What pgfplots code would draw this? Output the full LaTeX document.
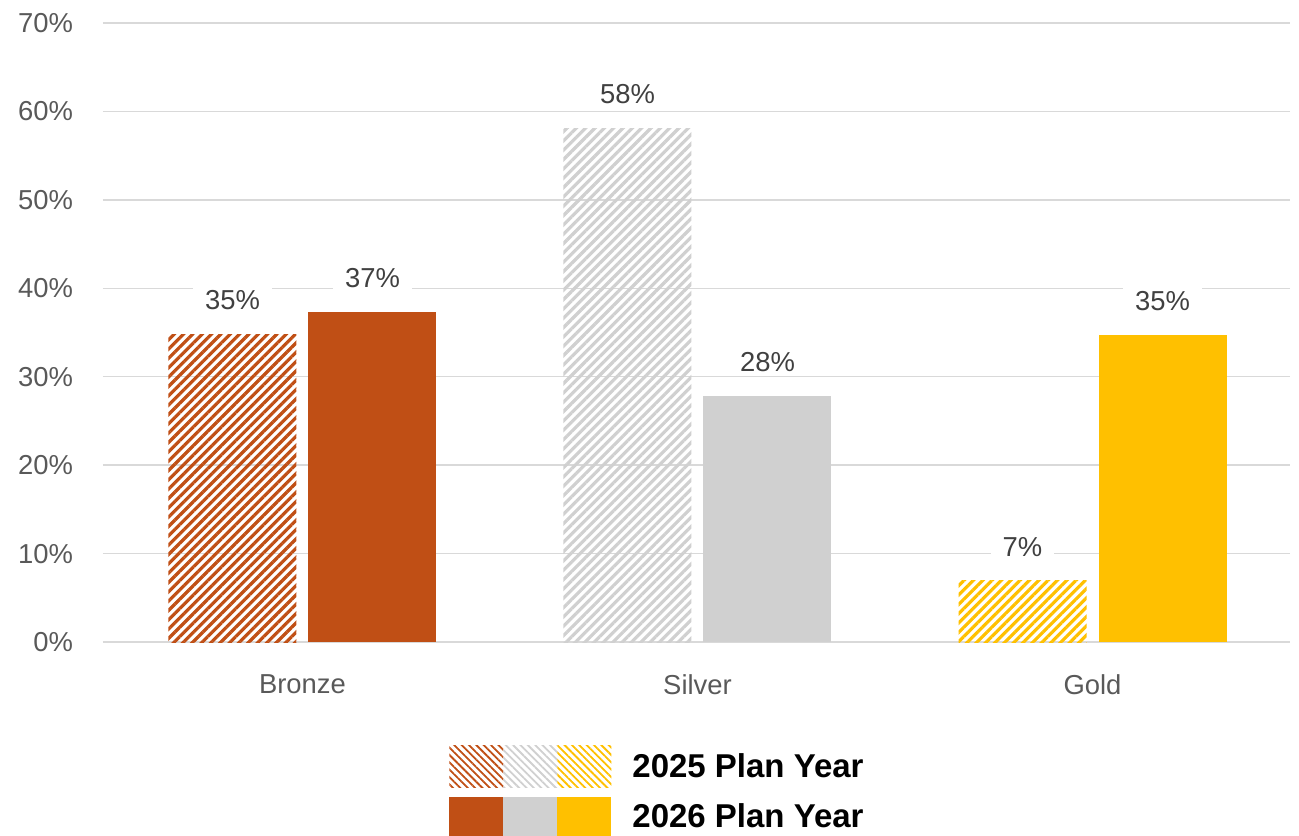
\documentclass[border=0pt]{standalone}
\usepackage{fontspec}
\setmainfont{Liberation Sans}
\usepackage{pgfplots}
\pgfplotsset{compat=1.18}
\usetikzlibrary{patterns.meta}
\definecolor{bronze}{HTML}{C04F15}
\definecolor{silver}{HTML}{D0D0D0}
\definecolor{gold}{HTML}{FFC000}
\definecolor{gridc}{HTML}{D9D9D9}
\definecolor{lbl}{HTML}{404040}
\definecolor{tickc}{HTML}{595959}
\tikzset{
  hatchbar/.style={pattern={Lines[angle=45,distance=3.3pt,line width=1.6pt]}, pattern color=#1},
  hatchleg/.style={pattern={Lines[angle=-45,distance=2.6pt,line width=0.9pt]}, pattern color=#1},
}
\begin{document}
\begin{tikzpicture}
\begin{axis}[
  scale only axis, width=593.5pt, height=309.5pt,
  ymin=0, ymax=70, ytick={0,10,...,70},
  xmin=-0.505, xmax=2.5, xtick={0,1,2}, xticklabels={Bronze,Silver,Gold},
  ybar, bar width=64pt,
  ymajorgrids, grid style={gridc, line width=0.75pt},
  axis line style={draw=none}, tick style={draw=none},
  /pgf/number format/assume math mode=true,
  yticklabel={\pgfmathprintnumber{\tick}\%},
  tick label style={font=\fontsize{13.7}{16}\selectfont, text=tickc},
  yticklabel style={xshift=-11.5pt},
  xticklabel style={yshift=-8.4pt},
  nodes near coords={\pgfmathprintnumber[fixed,precision=0]{\pgfplotspointmeta}\%},
  nodes near coords style={fill=white, text=lbl, font=\fontsize{13.7}{16}\selectfont, inner xsep=6pt, inner ysep=2pt, anchor=south, yshift=10pt},
  legend style={at={(axis description cs:0.2915,-0.167)}, anchor=north west, draw=none, fill=none, inner sep=0pt, row sep=4.5pt, column sep=0pt, font=\fontsize{16.5}{19}\selectfont\bfseries, text=black},
  legend cell align=left,
]
\addplot[forget plot, draw=none, hatchbar=bronze, bar shift=-35pt] coordinates {(0,34.8)};
\addplot[forget plot, draw=none, fill=bronze, bar shift=35pt] coordinates {(0,37.3)};
\addplot[forget plot, draw=none, hatchbar=silver, bar shift=-35pt] coordinates {(1,58.1)};
\addplot[forget plot, draw=none, fill=silver, bar shift=35pt] coordinates {(1,27.8)};
\addplot[forget plot, draw=none, hatchbar=gold, bar shift=-35pt] coordinates {(2,6.9)};
\addplot[forget plot, draw=none, fill=gold, bar shift=35pt] coordinates {(2,34.7)};
\addlegendimage{draw=none, legend image code/.code={
  \fill[draw=none, hatchleg=bronze] (0pt,-10.5pt) rectangle (27pt,10.5pt);
  \fill[draw=none, hatchleg=silver] (27pt,-10.5pt) rectangle (54pt,10.5pt);
  \fill[draw=none, hatchleg=gold] (54pt,-10.5pt) rectangle (81pt,10.5pt);
  \path[draw=none] (81pt,0pt) -- (89.5pt,0pt);
}}
\addlegendentry{2025 Plan Year}
\addlegendimage{draw=none, legend image code/.code={
  \fill[draw=none, bronze] (0pt,-10pt) rectangle (27pt,10pt);
  \fill[draw=none, silver] (27pt,-10pt) rectangle (54pt,10pt);
  \fill[draw=none, gold] (54pt,-10pt) rectangle (81pt,10pt);
  \path[draw=none] (81pt,0pt) -- (89.5pt,0pt);
}}
\addlegendentry{2026 Plan Year}
\end{axis}
\pgfresetboundingbox
\path ([xshift=-51.5pt,yshift=-96.5pt]current axis.south west) rectangle ([xshift=4.5pt,yshift=11.5pt]current axis.north east);
\end{tikzpicture}
\end{document}
